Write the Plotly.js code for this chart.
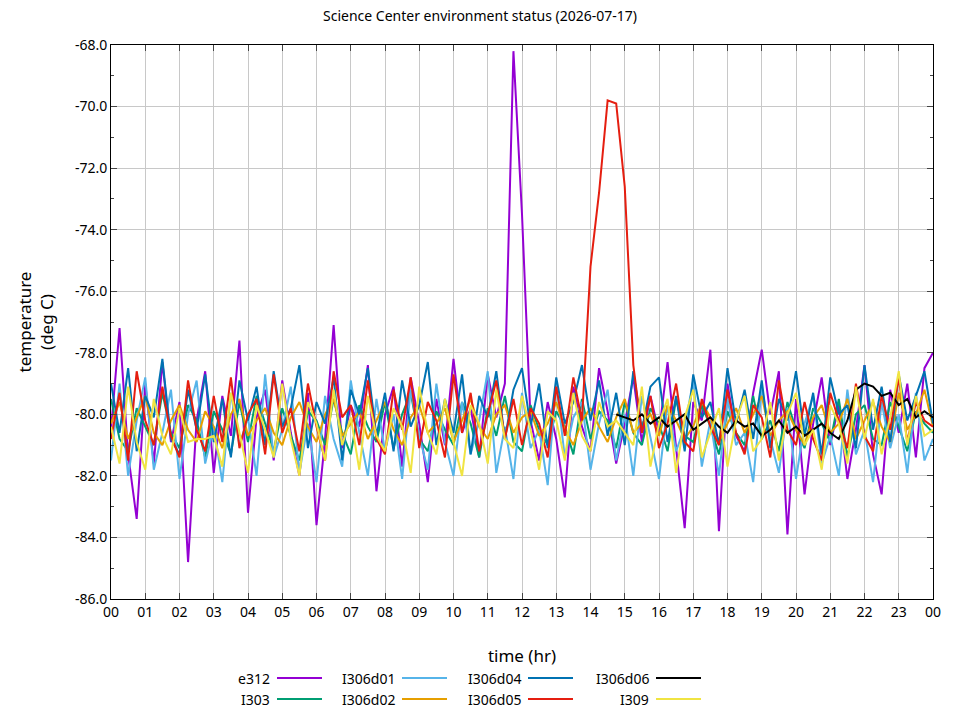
<!DOCTYPE html>
<html>
<head>
<meta charset="utf-8">
<script src="https://cdn.plot.ly/plotly-3.0.1.min.js"></script>
<style>body{margin:0;background:#fff}#plot{width:960px;height:720px}</style>
</head>
<body>
<div id="plot"></div>
<script>
// time in hours, every 15 minutes
let hours = [0,0.25,0.5,0.75,1,1.25,1.5,1.75,2,2.25,2.5,2.75,3,3.25,3.5,3.75,
  4,4.25,4.5,4.75,5,5.25,5.5,5.75,6,6.25,6.5,6.75,7,7.25,7.5,7.75,
  8,8.25,8.5,8.75,9,9.25,9.5,9.75,10,10.25,10.5,10.75,11,11.25,11.5,11.75,
  12,12.25,12.5,12.75,13,13.25,13.5,13.75,14,14.25,14.5,14.75,15,15.25,15.5,15.75,
  16,16.25,16.5,16.75,17,17.25,17.5,17.75,18,18.25,18.5,18.75,19,19.25,19.5,19.75,
  20,20.25,20.5,20.75,21,21.25,21.5,21.75,22,22.25,22.5,22.75,23,23.25,23.5,23.75,24]

let e312 = [-80.5,-77.2,-81.3,-83.4,-79.0,-81.6,-78.3,-80.9,
  -79.6,-84.8,-80.2,-78.6,-81.9,-79.4,-80.7,-77.6,
  -83.2,-80.1,-79.2,-81.5,-78.9,-80.6,-82.0,-79.3,
  -83.6,-80.8,-77.1,-81.1,-79.7,-80.4,-78.4,-82.5,
  -80.0,-79.1,-81.7,-78.8,-80.3,-82.2,-79.5,-81.0,
  -78.2,-80.6,-79.8,-81.4,-78.7,-80.1,-79.0,-68.2,
  -73.5,-80.2,-81.5,-79.6,-80.8,-82.7,-79.1,-80.4,
  -81.2,-78.5,-79.9,-81.6,-80.3,-78.8,-80.9,-79.4,
  -80.6,-78.3,-81.1,-83.7,-79.6,-80.2,-77.9,-83.8,
  -79.0,-80.7,-81.2,-79.3,-77.9,-80.0,-78.6,-83.9,
  -79.5,-82.6,-80.3,-78.8,-81.0,-79.7,-82.1,-80.5,
  -78.4,-81.3,-82.6,-79.2,-80.6,-79.0,-81.4,-78.5,
  -78.0]

let i303 = [-79.5,-80.8,-81.2,-79.8,-80.4,-81.0,-79.3,-80.6,
  -81.1,-79.7,-80.2,-81.4,-79.9,-80.5,-81.3,-79.6,
  -80.9,-79.4,-80.3,-81.2,-79.8,-80.7,-81.5,-79.9,
  -80.2,-81.0,-79.5,-80.6,-81.3,-79.7,-80.4,-80.9,
  -79.6,-81.1,-80.0,-79.3,-80.8,-81.2,-79.9,-80.5,
  -81.0,-79.6,-80.3,-81.4,-79.8,-80.7,-79.4,-80.9,
  -81.2,-79.7,-80.5,-81.0,-79.9,-80.4,-81.3,-79.5,
  -80.8,-79.9,-80.2,-81.1,-79.6,-80.6,-81.0,-79.8,
  -80.3,-81.2,-79.5,-80.7,-80.9,-79.7,-80.4,-81.3,
  -79.9,-80.6,-81.0,-79.4,-80.8,-80.2,-81.2,-79.6,
  -80.5,-81.1,-79.8,-80.3,-80.9,-79.5,-81.4,-80.0,
  -79.7,-80.8,-81.0,-79.6,-80.4,-81.2,-79.9,-80.3,
  -80.6]

let i306d01 = [-81.5,-79.0,-82.0,-80.2,-78.8,-81.8,-80.6,-79.2,
  -82.1,-80.0,-78.9,-81.6,-80.4,-82.2,-79.3,-81.0,
  -80.1,-82.0,-78.7,-81.4,-80.5,-79.1,-81.9,-80.3,
  -82.2,-79.4,-80.8,-81.7,-78.9,-80.6,-82.0,-79.5,
  -81.2,-80.0,-82.1,-79.2,-80.7,-81.8,-79.0,-80.9,
  -82.0,-79.6,-81.3,-80.2,-78.6,-81.9,-80.4,-82.1,
  -79.3,-81.1,-80.5,-82.3,-79.0,-81.4,-80.1,-79.6,
  -81.8,-80.3,-79.2,-81.5,-80.0,-82.0,-79.4,-80.8,
  -82.1,-79.7,-81.2,-80.4,-78.9,-81.7,-80.2,-82.0,
  -79.5,-81.0,-80.6,-82.2,-79.1,-80.8,-81.9,-79.8,
  -82.1,-80.3,-79.4,-81.6,-80.7,-82.0,-79.2,-81.3,
  -80.5,-82.2,-79.6,-81.1,-80.0,-81.9,-79.3,-81.5,
  -80.8]

let i306d02 = [-80.3,-79.6,-80.8,-80.1,-79.4,-80.6,-81.0,-80.2,
  -79.7,-80.5,-80.9,-79.9,-80.4,-81.1,-80.0,-79.5,
  -80.7,-80.2,-79.8,-80.6,-81.0,-80.1,-79.6,-80.4,
  -80.9,-80.0,-79.5,-80.7,-80.3,-79.9,-80.8,-80.2,
  -79.6,-80.5,-81.0,-80.1,-79.7,-80.6,-80.3,-79.8,
  -80.9,-80.2,-79.5,-80.4,-80.8,-80.0,-79.7,-80.6,
  -80.1,-79.9,-80.7,-80.3,-79.6,-80.5,-81.0,-80.2,
  -79.8,-80.4,-80.9,-80.1,-79.5,-80.6,-80.3,-80.0,
  -80.7,-79.7,-80.2,-80.8,-80.4,-79.6,-80.1,-80.9,
  -80.3,-79.8,-80.6,-80.0,-79.4,-80.7,-80.2,-79.9,
  -80.5,-81.0,-80.1,-79.7,-80.6,-80.3,-79.5,-80.8,
  -80.2,-79.6,-80.4,-80.9,-79.3,-80.5,-80.0,-79.2,
  -80.4]

let i306d04 = [-79.0,-80.6,-78.5,-81.2,-79.4,-80.1,-78.2,-80.8,
  -81.3,-79.2,-80.5,-78.7,-80.9,-79.5,-81.4,-78.9,
  -80.2,-79.1,-81.0,-78.6,-80.4,-79.8,-78.4,-81.1,
  -79.6,-80.3,-78.8,-81.5,-79.2,-80.0,-78.5,-80.7,
  -79.3,-81.2,-78.9,-80.4,-79.7,-78.3,-81.0,-79.5,
  -80.6,-78.7,-81.3,-79.4,-80.1,-78.6,-80.8,-79.2,
  -78.5,-80.4,-79.0,-81.1,-78.8,-80.3,-79.6,-78.4,
  -80.2,-78.9,-80.7,-79.3,-81.0,-78.6,-80.5,-79.1,
  -78.8,-80.9,-79.4,-81.2,-78.7,-80.1,-79.6,-81.0,
  -78.5,-80.3,-79.2,-80.8,-78.9,-81.1,-79.5,-80.2,
  -78.6,-80.7,-79.3,-81.3,-78.8,-80.0,-79.7,-81.1,
  -78.4,-80.5,-79.1,-80.9,-78.7,-80.2,-79.4,-78.6,
  -80.3]

let i306d05 = [-80.8,-79.3,-81.5,-78.6,-80.2,-81.0,-79.1,-80.7,
  -81.4,-78.9,-80.5,-81.2,-79.4,-80.9,-78.8,-81.1,
  -80.0,-79.5,-81.3,-78.7,-80.6,-79.8,-81.2,-79.0,
  -80.4,-81.5,-78.6,-80.1,-79.7,-81.0,-78.9,-80.8,
  -81.3,-79.2,-80.5,-78.8,-81.1,-79.6,-80.2,-81.4,
  -78.7,-80.6,-79.3,-81.2,-80.0,-78.9,-80.8,-79.5,
  -81.0,-79.8,-80.3,-81.4,-79.1,-80.7,-78.8,-80.2,
  -75.2,-72.8,-69.8,-69.9,-72.6,-78.4,-80.6,-79.4,
  -81.1,-80.3,-79.0,-80.9,-81.2,-79.5,-80.4,-81.0,
  -79.2,-80.6,-81.3,-79.7,-80.1,-81.4,-78.9,-80.5,
  -81.0,-79.6,-80.8,-81.5,-79.3,-80.2,-81.1,-79.0,
  -80.7,-81.2,-79.4,-80.5,-78.8,-80.9,-79.6,-80.2,
  -80.4]

let i306d06 = [null,null,null,null,null,null,null,null,
  null,null,null,null,null,null,null,null,
  null,null,null,null,null,null,null,null,
  null,null,null,null,null,null,null,null,
  null,null,null,null,null,null,null,null,
  null,null,null,null,null,null,null,null,
  null,null,null,null,null,null,null,null,
  null,null,null,-80.0,-80.1,-80.2,-80.0,-80.3,
  -80.1,-80.4,-80.2,-80.0,-80.5,-80.3,-80.1,-80.4,
  -80.6,-80.2,-80.4,-80.3,-80.7,-80.5,-80.2,-80.6,
  -80.4,-80.7,-80.5,-80.3,-80.6,-80.8,-80.2,-79.2,
  -79.0,-79.1,-79.4,-79.3,-79.7,-79.5,-80.1,-79.9,
  -80.1]

let i309 = [-80.4,-81.6,-79.1,-80.9,-81.8,-79.5,-80.7,-81.3,
  -79.8,-80.9,-80.8,-80.8,-80.7,-81.7,-79.3,-80.6,
  -81.9,-79.7,-80.5,-81.4,-79.0,-80.8,-82.0,-79.6,
  -80.3,-81.5,-79.2,-81.0,-80.1,-81.8,-79.4,-80.7,
  -81.2,-79.8,-80.4,-81.9,-79.1,-80.6,-81.3,-79.5,
  -80.9,-82.0,-79.7,-80.3,-81.6,-79.2,-80.8,-81.1,
  -79.4,-80.5,-81.8,-79.9,-80.2,-81.5,-79.3,-80.7,
  -81.2,-79.6,-80.4,-80.2,-80.6,-81.0,-79.1,-81.7,
  -80.3,-79.5,-81.9,-80.1,-79.2,-81.4,-80.6,-79.8,
  -81.7,-80.2,-79.4,-81.2,-80.8,-79.6,-81.5,-80.0,
  -79.3,-81.0,-80.5,-81.8,-79.7,-80.3,-81.6,-79.1,
  -80.8,-79.5,-81.3,-80.1,-78.6,-81.0,-79.4,-80.7,
  -80.5]

let names = ["e312", "I303", "I306d01", "I306d02", "I306d04", "I306d05", "I306d06", "I309"]
let series = [e312, i303, i306d01, i306d02, i306d04, i306d05, i306d06, i309]
let colors = ["#9400d3", "#009e73", "#56b4e9", "#e69f00", "#0072b2", "#e51e10", "#000000", "#f0e442"]
let tickVals = [0,1,2,3,4,5,6,7,8,9,10,11,12,13,14,15,16,17,18,19,20,21,22,23,24]
let tickText = ["00","01","02","03","04","05","06","07","08","09","10","11","12",
  "13","14","15","16","17","18","19","20","21","22","23","00"]
let yTickVals = [-86,-84,-82,-80,-78,-76,-74,-72,-70,-68]
let yTickText = ["-86.0","-84.0","-82.0","-80.0","-78.0","-76.0","-74.0","-72.0","-70.0","-68.0"]

let data = []
for (let i = 0; i < series.length; i++) {
  data.push({
    x: hours, y: series[i], name: names[i], type: "scatter", mode: "lines",
    line: {color: colors[i], width: 2}, connectgaps: false
  })
}

// gnuplot-like key below the plot: label then line sample, column-major
let annotations = []
let shapes = []
let colRight = [272, 397, 523, 651]
let rowY = [678, 699]
for (let i = 0; i < names.length; i++) {
  let c = Math.floor(i / 2), r = i % 2
  annotations.push({
    text: names[i], xref: "paper", yref: "paper", showarrow: false,
    x: (colRight[c] - 111) / 822, y: (599 - rowY[r]) / 554,
    xanchor: "right", yanchor: "middle", font: {size: 14, color: "#000"}
  })
  shapes.push({
    type: "line", xref: "paper", yref: "paper",
    x0: (colRight[c] + 5 - 111) / 822, x1: (colRight[c] + 50 - 111) / 822,
    y0: (599 - rowY[r]) / 554, y1: (599 - rowY[r]) / 554,
    line: {color: colors[i], width: 2}
  })
}

let layout = {
  width: 960, height: 720,
  margin: {l: 111, r: 27, t: 45, b: 121},
  font: {family: "Noto Sans, DejaVu Sans, sans-serif", size: 14, color: "#000"},
  title: {text: "Science Center environment status (2026-07-17)", x: 0.5, y: 0.985,
    yanchor: "top", font: {size: 14}},
  showlegend: false,
  plot_bgcolor: "#fff", paper_bgcolor: "#fff",
  xaxis: {
    range: [0, 24], tickvals: tickVals, ticktext: tickText,
    showgrid: true, gridcolor: "#c8c8c8", zeroline: false,
    showline: true, linecolor: "#000", mirror: "ticks", ticks: "inside", ticklen: 6,
    title: {text: "time (hr)", standoff: 30}
  },
  yaxis: {
    range: [-86, -68], tickvals: yTickVals, ticktext: yTickText,
    showgrid: true, gridcolor: "#c8c8c8", zeroline: false,
    showline: true, linecolor: "#000", mirror: "ticks", ticks: "inside", ticklen: 6,
    minor: {dtick: 1, ticks: "inside", ticklen: 3, showgrid: false},
    title: {text: "temperature<br>(deg C)", standoff: 16}
  },
  annotations: annotations,
  shapes: shapes
}

Plotly.newPlot("plot", data, layout, {displayModeBar: false})
</script>
</body>
</html>
